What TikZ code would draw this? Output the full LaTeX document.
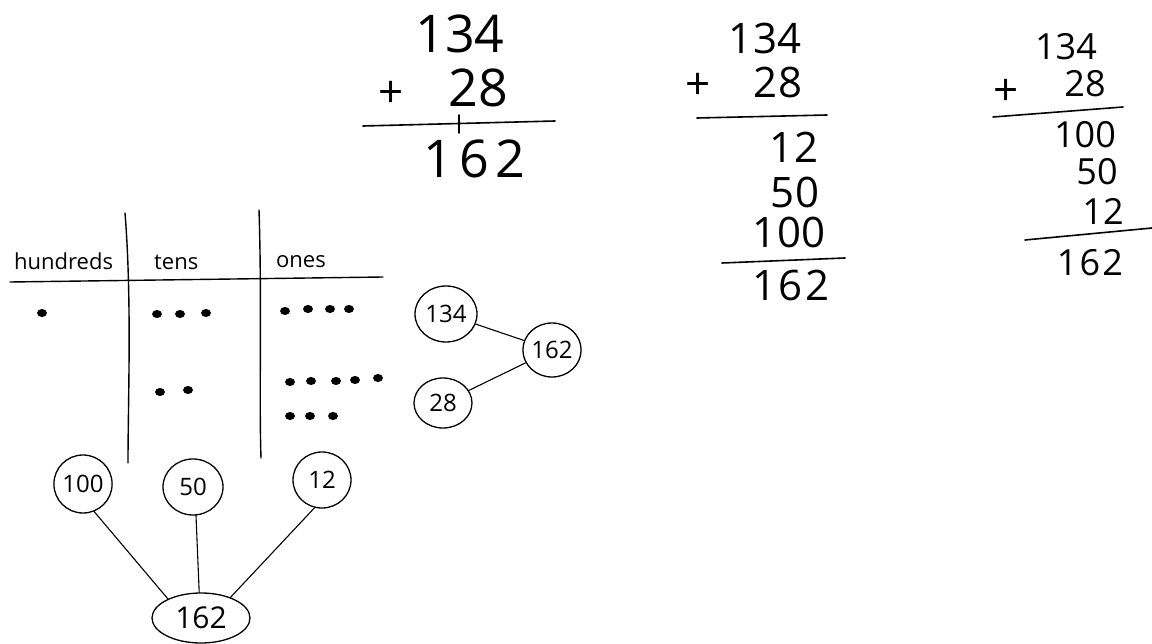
\documentclass[tikz,border=0pt]{standalone}
\usepackage{fontspec}
\setmainfont{Open Sans}
\usetikzlibrary{shapes.geometric}
\begin{document}
\begin{tikzpicture}[x=1pt,y=-1pt, line cap=round,
  numA/.style={font=\fontsize{52}{52}\selectfont, inner sep=0pt},
  numB/.style={font=\fontsize{42}{42}\selectfont, inner sep=0pt},
  numC/.style={font=\fontsize{36}{36}\selectfont, inner sep=0pt},
  plus/.style={font=\fontsize{44}{44}\selectfont, inner sep=0pt},
  rule/.style={line width=1.6pt},
  bubble/.style={draw, ellipse, line width=1.3pt, inner sep=0pt, font=\fontsize{24}{24}\selectfont},
  link/.style={line width=1.1pt},
  head/.style={font=\fontsize{22}{22}\selectfont, inner sep=0pt, anchor=base west},
  dot/.style={fill, ellipse, inner sep=0pt, minimum width=10pt, minimum height=8pt},
  tline/.style={line width=1.4pt}]
\useasboundingbox (0,0) rectangle (1152,644);

% ---------- problem 1 ----------
\node[numA] (a1) at (460,34) {134};
\node[plus] (p1) at (391,94) {+};
\node[numA] (b1) at (478,88) {28};
\coordinate (l1a) at (363,126);
\coordinate (l1b) at (555,121);
\draw[rule] (l1a) -- (l1b);
\coordinate (t1a) at (459,115);
\coordinate (t1b) at (459,133);
\draw[rule] (t1a) -- (t1b);
\node[numA, font=\fontsize{52}{52}\selectfont\addfontfeature{LetterSpace=12}] (s1) at (474,159) {162};

% ---------- problem 2 ----------
\node[numB] (a2) at (765,39) {134};
\node[plus] (p2) at (698,86) {+};
\node[numB] (b2) at (778,83) {28};
\coordinate (l2a) at (697,118);
\coordinate (l2b) at (827,115);
\draw[rule] (l2a) -- (l2b);
\node[numB] (c2) at (794,147) {12};
\node[numB] (d2) at (795,192) {50};
\node[numB] (e2) at (789,232) {100};
\coordinate (m2a) at (722,263);
\coordinate (m2b) at (845,258);
\draw[rule] (m2a) -- (m2b);
\node[numB, font=\fontsize{42}{42}\selectfont\addfontfeature{LetterSpace=6}] (s2) at (791,285) {162};

% ---------- problem 3 ----------
\node[numC] (a3) at (1066,47) {134};
\node[plus] (p3) at (1006,92) {+};
\node[numC] (b3) at (1085,84) {28};
\coordinate (l3a) at (993,117);
\coordinate (l3b) at (1123,107);
\draw[rule] (l3a) -- (l3b);
\node[numC] (c3) at (1085,135) {100};
\node[numC] (d3) at (1097,172) {50};
\node[numC] (e3) at (1103,211) {12};
\coordinate (m3a) at (1025,240);
\coordinate (m3b) at (1152,228);
\draw[rule] (m3a) -- (m3b);
\node[numC, font=\fontsize{36}{36}\selectfont\addfontfeature{LetterSpace=6}] (s3) at (1090,263) {162};

% ---------- place value table ----------
\coordinate (v1a) at (125,213);
\coordinate (v1b) at (128,463);
\coordinate (v2a) at (259,210);
\coordinate (v2b) at (261,458);
\coordinate (ha) at (10,282);
\coordinate (hb) at (383,277);
\draw[tline] (v1a) .. controls (132,300) and (128,400) .. (v1b);
\draw[tline] (v2a) .. controls (262,300) and (259,400) .. (v2b);
\draw[tline] (ha) -- (hb);
\node[head] (hh) at (14,270) {hundreds};
\node[head] (ht) at (154,270) {tens};
\node[head] (ho) at (276,268) {ones};

\node[dot] (dh1) at (42,313) {};
\node[dot] (dt1) at (157,314) {};
\node[dot] (dt2) at (180,314) {};
\node[dot] (dt3) at (206,313) {};
\node[dot] (do1) at (285,311) {};
\node[dot] (do2) at (308,309) {};
\node[dot] (do3) at (330,309) {};
\node[dot] (do4) at (349,309) {};
\node[dot] (dt4) at (160,392) {};
\node[dot] (dt5) at (188,390) {};
\node[dot] (do5) at (290,382) {};
\node[dot] (do6) at (311,381) {};
\node[dot] (do7) at (336,381) {};
\node[dot] (do8) at (355,380) {};
\node[dot] (do9) at (378,378) {};
\node[dot] (do10) at (290,416) {};
\node[dot] (do11) at (310,416) {};
\node[dot] (do12) at (333,416) {};

% ---------- number bond right ----------
\node[bubble, minimum width=62pt, minimum height=56pt] (r134) at (446,314) {134};
\node[bubble, minimum width=50pt, minimum height=54pt] (r162) at (552,350) {162};
\node[bubble, minimum width=58pt, minimum height=50pt] (r28) at (443,403) {28};
\draw[link] (r134) -- (r162);
\draw[link] (r28) -- (r162);

% ---------- number bond bottom ----------
\node[bubble, minimum width=56pt, minimum height=58pt] (n100) at (83,484) {100};
\node[bubble, minimum width=60pt, minimum height=56pt] (n50) at (193,487) {50};
\node[bubble, minimum width=58pt, minimum height=56pt] (n12) at (322,480) {12};
\node[bubble, minimum width=98pt, minimum height=50pt, font=\fontsize{30}{30}\selectfont] (n162) at (201,618) {162};
\draw[link] (n100.-68) -- (n162.150);
\draw[link] (n50.-84) -- (n162.94);
\draw[link] (n12.-105) -- (n162.35);
\end{tikzpicture}
\end{document}
